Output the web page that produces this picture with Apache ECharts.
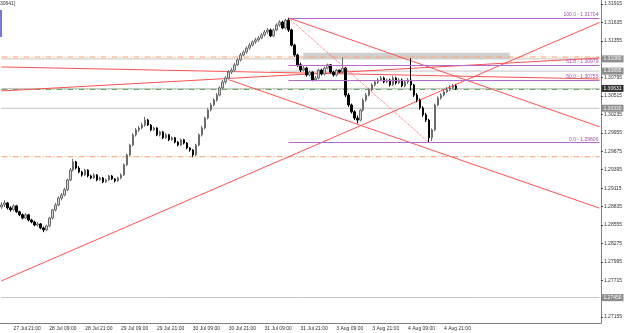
<!DOCTYPE html>
<html>
<head>
<meta charset="utf-8">
<title>GBPUSD H1</title>
<script src="https://cdn.jsdelivr.net/npm/echarts@6/dist/echarts.min.js"></script>
<style>body{margin:0;background:#fff}#chart{width:625px;height:333px}</style>
</head>
<body>
<div id="chart"></div>
<script>
// hourly bars: [day, first hour, last hour]
var sessions = [['27 Jul',17,23],['28 Jul',0,23],['29 Jul',0,23],['30 Jul',0,23],['31 Jul',0,23],['3 Aug',0,23],['4 Aug',0,23],['5 Aug',0,1]];
var timeTicks = ['27 Jul 21:00','28 Jul 09:00','28 Jul 21:00','29 Jul 09:00','29 Jul 21:00','30 Jul 09:00','30 Jul 21:00','31 Jul 09:00','31 Jul 21:00','3 Aug 09:00','3 Aug 21:00','4 Aug 09:00','4 Aug 21:00'];
var priceTicks = [1.27155,1.27435,1.27715,1.27995,1.28275,1.28555,1.28835,1.29115,1.29395,1.29675,1.29955,1.30235,1.30515,1.30795,1.31075,1.31355,1.31635,1.31915];

// [open, close, low, high]
var ohlc = [
[1.28830,1.28860,1.28800,1.28900],[1.28860,1.28890,1.28830,1.28930],[1.28890,1.28815,1.28790,1.28905],[1.28815,1.28785,1.28760,1.28840],
[1.28785,1.28845,1.28770,1.28870],[1.28845,1.28755,1.28740,1.28860],[1.28755,1.28710,1.28690,1.28770],[1.28710,1.28660,1.28640,1.28730],
[1.28660,1.28710,1.28645,1.28735],[1.28710,1.28630,1.28610,1.28720],[1.28630,1.28600,1.28580,1.28650],[1.28600,1.28555,1.28535,1.28620],
[1.28555,1.28570,1.28530,1.28600],[1.28570,1.28510,1.28490,1.28585],[1.28510,1.28480,1.28445,1.28530],[1.28480,1.28540,1.28460,1.28560],
[1.28540,1.28660,1.28520,1.28680],[1.28660,1.28785,1.28640,1.28800],[1.28785,1.28860,1.28760,1.28890],[1.28860,1.28965,1.28840,1.28990],
[1.28965,1.29010,1.28930,1.29040],[1.29010,1.29090,1.28990,1.29120],[1.29090,1.29240,1.29070,1.29260],[1.29240,1.29390,1.29220,1.29420],
[1.29390,1.29515,1.29370,1.29560],[1.29515,1.29420,1.29400,1.29530],[1.29420,1.29360,1.29340,1.29450],[1.29360,1.29315,1.29290,1.29380],
[1.29315,1.29390,1.29300,1.29410],[1.29390,1.29300,1.29280,1.29400],[1.29300,1.29270,1.29250,1.29320],[1.29270,1.29315,1.29255,1.29340],
[1.29315,1.29240,1.29220,1.29330],[1.29240,1.29270,1.29225,1.29290],[1.29270,1.29210,1.29190,1.29285],[1.29210,1.29240,1.29195,1.29260],
[1.29240,1.29300,1.29225,1.29320],[1.29300,1.29255,1.29240,1.29315],[1.29255,1.29225,1.29200,1.29270],[1.29225,1.29270,1.29210,1.29290],
[1.29270,1.29315,1.29250,1.29340],[1.29315,1.29470,1.29300,1.29490],[1.29470,1.29620,1.29450,1.29640],[1.29620,1.29770,1.29600,1.29790],
[1.29770,1.29925,1.29750,1.29950],[1.29925,1.30000,1.29900,1.30030],[1.30000,1.30030,1.29970,1.30060],[1.30030,1.30075,1.30010,1.30110],
[1.30075,1.30150,1.30050,1.30200],[1.30150,1.30075,1.30060,1.30170],[1.30075,1.30000,1.29980,1.30090],[1.30000,1.30030,1.29985,1.30050],
[1.30030,1.29925,1.29905,1.30040],[1.29925,1.29970,1.29900,1.29990],[1.29970,1.29880,1.29860,1.29985],[1.29880,1.29925,1.29865,1.29950],
[1.29925,1.29850,1.29830,1.29940],[1.29850,1.29880,1.29835,1.29900],[1.29880,1.29815,1.29795,1.29895],[1.29815,1.29770,1.29750,1.29830],
[1.29770,1.29850,1.29755,1.29870],[1.29850,1.29800,1.29780,1.29865],[1.29800,1.29725,1.29705,1.29815],[1.29725,1.29695,1.29670,1.29740],
[1.29695,1.29620,1.29590,1.29710],[1.29620,1.29770,1.29600,1.29790],[1.29770,1.29925,1.29750,1.29950],[1.29925,1.30030,1.29900,1.30060],
[1.30030,1.30180,1.30010,1.30200],[1.30180,1.30305,1.30160,1.30330],[1.30305,1.30380,1.30280,1.30410],[1.30380,1.30455,1.30360,1.30480],
[1.30455,1.30530,1.30430,1.30560],[1.30530,1.30640,1.30510,1.30660],[1.30640,1.30730,1.30620,1.30760],[1.30730,1.30790,1.30700,1.30820],
[1.30790,1.30880,1.30770,1.30910],[1.30880,1.30910,1.30850,1.30940],[1.30910,1.30990,1.30890,1.31020],[1.30990,1.31065,1.30970,1.31090],
[1.31065,1.31140,1.31040,1.31170],[1.31140,1.31185,1.31120,1.31210],[1.31185,1.31245,1.31160,1.31270],[1.31245,1.31290,1.31220,1.31320],
[1.31290,1.31340,1.31270,1.31360],[1.31340,1.31370,1.31310,1.31400],[1.31370,1.31400,1.31340,1.31430],[1.31400,1.31445,1.31380,1.31470],
[1.31445,1.31490,1.31420,1.31520],[1.31490,1.31520,1.31460,1.31550],[1.31520,1.31430,1.31410,1.31540],[1.31430,1.31520,1.31410,1.31540],
[1.31520,1.31595,1.31500,1.31620],[1.31595,1.31640,1.31570,1.31670],[1.31640,1.31550,1.31530,1.31660],[1.31550,1.31670,1.31530,1.31690],
[1.31670,1.31520,1.31490,1.31704],[1.31520,1.31290,1.31270,1.31540],[1.31290,1.31140,1.31110,1.31310],[1.31140,1.30990,1.30960,1.31160],
[1.30990,1.30910,1.30880,1.31020],[1.30910,1.30940,1.30890,1.30970],[1.30940,1.30835,1.30810,1.30960],[1.30835,1.30880,1.30820,1.30900],
[1.30880,1.30760,1.30740,1.30890],[1.30760,1.30790,1.30740,1.30820],[1.30790,1.30910,1.30770,1.30930],[1.30910,1.30850,1.30830,1.30930],
[1.30850,1.30940,1.30830,1.30960],[1.30940,1.30990,1.30920,1.31010],[1.30990,1.30880,1.30860,1.31000],[1.30880,1.30835,1.30810,1.30900],
[1.30835,1.30910,1.30815,1.30930],[1.30910,1.30880,1.30860,1.30920],[1.30880,1.30940,1.30860,1.31100],[1.30940,1.30530,1.30500,1.30960],
[1.30530,1.30380,1.30350,1.30560],[1.30380,1.30275,1.30250,1.30400],[1.30275,1.30180,1.30150,1.30300],[1.30180,1.30150,1.30100,1.30220],
[1.30150,1.30300,1.30130,1.30320],[1.30300,1.30455,1.30280,1.30480],[1.30455,1.30530,1.30430,1.30560],[1.30530,1.30610,1.30510,1.30640],
[1.30610,1.30685,1.30590,1.30710],[1.30685,1.30730,1.30660,1.30760],[1.30730,1.30760,1.30700,1.30790],[1.30760,1.30790,1.30740,1.30820],
[1.30790,1.30730,1.30710,1.30810],[1.30730,1.30760,1.30710,1.30780],[1.30760,1.30685,1.30660,1.30780],[1.30685,1.30790,1.30670,1.30820],
[1.30790,1.30715,1.30690,1.30810],[1.30715,1.30760,1.30700,1.30790],[1.30760,1.30670,1.30650,1.30780],[1.30670,1.30730,1.30650,1.30750],
[1.30730,1.30760,1.30700,1.30790],[1.30760,1.30685,1.30600,1.31090],[1.30685,1.30530,1.30500,1.30700],[1.30530,1.30455,1.30420,1.30560],
[1.30455,1.30335,1.30310,1.30480],[1.30335,1.30230,1.30200,1.30360],[1.30230,1.30150,1.30120,1.30260],[1.30150,1.29880,1.29806,1.30170],
[1.29880,1.30000,1.29830,1.30020],[1.30000,1.30380,1.29980,1.30400],[1.30380,1.30485,1.30360,1.30510],[1.30485,1.30530,1.30460,1.30560],
[1.30530,1.30580,1.30510,1.30620],[1.30580,1.30610,1.30560,1.30650],[1.30610,1.30640,1.30590,1.30680],[1.30640,1.30670,1.30620,1.30700],
[1.30670,1.30631,1.30610,1.30690]
];

// user drawn objects, as [bar index, price]
var trendLines = [
  [[96,1.31704],[200,1.30048]],
  [[76,1.30764],[200,1.28811]],
  [[0,1.27705],[200,1.31635]],
  [[0,1.30958],[200,1.30775]],
  [[0,1.30593],[200,1.31094]]
];
var fibHigh = [96, 1.31704], fibLow = [143, 1.29806];
var fibLevels = [0, 50, 61.8, 100];
// horizontal lines: [price, first bar index]
var grayLevels = [[1.31080, 0], [1.30895, 90], [1.30330, 0], [1.27450, 0]];
var orangeLevels = [1.31109, 1.29593];
var greenLevel = 1.30615;
var bidLevel = 1.30631;
var zoneBox = [[101,1.31175],[170,1.31084]];

var cats = [];
sessions.forEach(function (s) {
  for (var h = s[1]; h <= s[2]; h++) cats.push(s[0] + ' ' + (h < 10 ? '0' : '') + h + ':00');
});
while (cats.length < 201) cats.push('');
var lastIdx = cats.length - 1;

var chart = echarts.init(document.getElementById('chart'));
var font = 'Liberation Sans';
function isTick(i, v) { return timeTicks.indexOf(v) >= 0; }

function hLine(p, from, color, type, tag, tagBg) {
  return {
    type: 'line', data: [[from, p], [lastIdx, p]], symbol: 'none', silent: true, z: 2,
    lineStyle: { color: color, width: 1, type: type },
    endLabel: tag ? { show: true, formatter: p.toFixed(5), backgroundColor: tagBg, color: '#fff',
      fontSize: 5, fontFamily: font, padding: [1, 2], distance: 2 } : { show: false }
  };
}

var fibMarks = [];
fibLevels.forEach(function (lv) {
  var p = fibLow[1] + (fibHigh[1] - fibLow[1]) * lv / 100;
  fibMarks.push([
    { coord: [fibHigh[0], p], lineStyle: { color: '#b868c8', type: 'solid', width: 1 },
      label: { show: true, position: 'insideEndTop', formatter: lv.toFixed(1) + ' - ' + p.toFixed(5), color: '#a050b0', fontSize: 5, fontFamily: font, distance: 1 } },
    { coord: [lastIdx, p] }
  ]);
});
fibMarks.push([
  { coord: fibHigh, lineStyle: { color: '#ff6060', type: 'dotted', width: 1 }, label: { show: false } },
  { coord: fibLow }
]);

var series = [];
orangeLevels.forEach(function (p) { series.push(hLine(p, 0, '#ffa070', [6, 2, 1, 2])); });
grayLevels.forEach(function (g) { series.push(hLine(g[0], g[1], '#c4c4c4', 'solid', true, '#8c8c8c')); });
series.push(hLine(greenLevel, 0, '#60b060', [6, 2, 1, 2]));
series.push(hLine(bidLevel, 0, '#c4c4c4', 'solid', true, '#303030'));
trendLines.forEach(function (t) {
  series.push({ type: 'line', data: t, symbol: 'none', silent: true, lineStyle: { color: '#ff5050', width: 1 }, z: 3 });
});
series.push({
  type: 'candlestick',
  data: ohlc,
  barWidth: 2,
  z: 4,
  itemStyle: { color: '#d4d4d4', color0: '#000', borderColor: '#6c6c6c', borderColor0: '#000', borderWidth: 1 },
  markLine: { symbol: ['none', 'none'], silent: true, animation: false, data: fibMarks },
  markArea: { silent: true, itemStyle: { color: 'rgba(150,150,150,0.45)' },
    data: [[{ coord: zoneBox[0] }, { coord: zoneBox[1] }]] }
});

chart.setOption({
  animation: false,
  textStyle: { fontFamily: font },
  grid: { left: 0, top: 0, width: 603, height: 323 },
  xAxis: {
    type: 'category', data: cats, boundaryGap: true,
    axisLine: { lineStyle: { color: '#808080' } },
    axisTick: { alignWithLabel: true, interval: isTick, length: 3, lineStyle: { color: '#404040' } },
    axisLabel: { interval: isTick, fontSize: 5, color: '#303030', align: 'left', margin: 3, fontFamily: font },
    splitLine: { show: false }
  },
  yAxis: {
    type: 'value', position: 'right', min: 1.27064, max: 1.31976, scale: true,
    axisLine: { show: true, lineStyle: { color: '#808080' } },
    axisTick: { show: true, length: 2, customValues: priceTicks, lineStyle: { color: '#404040' } },
    axisLabel: { customValues: priceTicks, fontSize: 5, color: '#303030', margin: 3, fontFamily: font,
      formatter: function (v) { return v.toFixed(5); } },
    splitLine: { show: false }
  },
  graphic: [
    { type: 'rect', shape: { x: 0, y: 10, width: 2, height: 27 }, style: { fill: '#7878dc' } },
    { type: 'text', x: 0, y: 1, style: { text: '30641]', fontSize: 5, fontFamily: font, fill: '#303030' } }
  ],
  series: series
});
</script>
</body>
</html>
